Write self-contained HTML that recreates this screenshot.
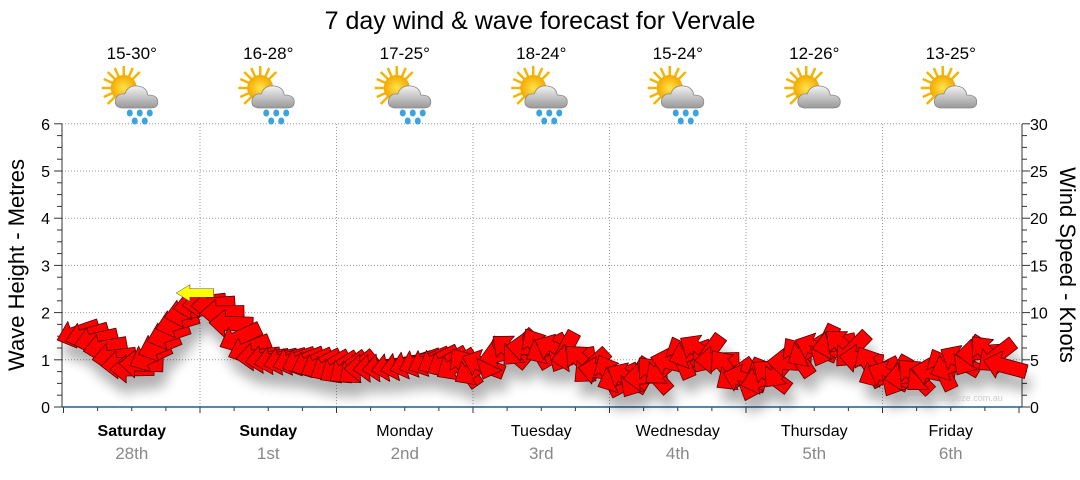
<!DOCTYPE html>
<html><head><meta charset="utf-8"><style>
body{margin:0;background:#fff;width:1080px;height:475px;overflow:hidden;font-family:"Liberation Sans",sans-serif}
</style></head><body>
<svg id="s" width="1080" height="475" xmlns="http://www.w3.org/2000/svg" font-family="Liberation Sans, sans-serif">
<defs>
<filter id="sh" x="-50%" y="-50%" width="200%" height="200%"><feGaussianBlur stdDeviation="6"/></filter>
<radialGradient id="sun" cx="0.5" cy="0.5" r="0.5"><stop offset="0" stop-color="#ffe44a"/><stop offset="1" stop-color="#f5a800"/></radialGradient>
<linearGradient id="cl" x1="0" y1="0" x2="0" y2="1"><stop offset="0" stop-color="#f2f2f2"/><stop offset="1" stop-color="#999"/></linearGradient>
<g id="ic">
<g stroke="#f5b400" stroke-width="2.5">
<line x1="-10" y1="-8" x2="-10" y2="-30"/><line x1="-10" y1="-8" x2="-32" y2="-8"/><line x1="-10" y1="-8" x2="-26" y2="-24"/><line x1="-10" y1="-8" x2="6" y2="-24"/><line x1="-10" y1="-8" x2="-26" y2="8"/><line x1="-10" y1="-8" x2="-30" y2="-17"/><line x1="-10" y1="-8" x2="-19" y2="-28"/><line x1="-10" y1="-8" x2="-1" y2="-28"/><line x1="-10" y1="-8" x2="-30" y2="1"/></g>
<circle cx="-10" cy="-8" r="13" fill="url(#sun)"/>
<path d="M-12 12 q-8 -1 -6 -9 q2 -6 9 -5 q3 -9 13 -8 q9 1 10 9 q10 0 10 7 q0 6 -7 6 z" fill="url(#cl)" stroke="#888" stroke-width="0.8"/>
</g>
<g id="rn" fill="#3aa4e0"><ellipse cx="-4" cy="17" rx="3" ry="3.5"/><ellipse cx="6" cy="17" rx="3" ry="3.5"/><ellipse cx="16" cy="17" rx="3" ry="3.5"/><ellipse cx="1" cy="25" rx="3" ry="3.5"/><ellipse cx="11" cy="25" rx="3" ry="3.5"/></g>
</defs>
<text x="540" y="29" font-size="25" text-anchor="middle" fill="#000">7 day wind &amp; wave forecast for Vervale</text>
<g id="grid"></g>
<g id="shadow" filter="url(#sh)" opacity="0.3"></g>
<g id="arr"></g>
<text x="24" y="265" font-size="22" text-anchor="middle" transform="rotate(-90 24 265)">Wave Height - Metres</text>
<text x="1060" y="265" font-size="22" text-anchor="middle" transform="rotate(90 1060 265)">Wind Speed - Knots</text>
<text x="955" y="401" font-size="9" fill="#ccc" text-anchor="middle">www.seabreeze.com.au</text>
</svg>
<script>
var s=document.getElementById('s'),g=document.getElementById('grid'),A=document.getElementById('arr'),S=document.getElementById('shadow');
var NS='http://www.w3.org/2000/svg';
function el(p,t,a,txt){var e=document.createElementNS(NS,t);for(var k in a)e.setAttribute(k,a[k]);if(txt!=null)e.textContent=txt;p.appendChild(e);return e;}
var x0=63.5,dw=136.5,y0=407,mh=47.2;
for(var i=1;i<=6;i++){el(g,'line',{x1:62,x2:1022,y1:y0-i*mh,y2:y0-i*mh,stroke:'#999','stroke-dasharray':'1,2'});}
for(var d=1;d<7;d++){var x=x0+d*dw;el(g,'line',{x1:x,x2:x,y1:124,y2:407,stroke:'#999','stroke-dasharray':'1,2'});}
el(g,'line',{x1:62,x2:62,y1:124,y2:407,stroke:'#333'});
el(g,'line',{x1:1022,x2:1022,y1:124,y2:407,stroke:'#333'});
for(var i=0;i<=24;i++){var y=y0-i*mh/4,l=i%4==0?8:5;el(g,'line',{x1:62-l,x2:62,y1:y,y2:y,stroke:'#333'});el(g,'line',{x1:1022,x2:1022+l,y1:y,y2:y,stroke:'#333'});}
for(var i=0;i<=6;i++){el(g,'text',{x:50,y:y0-i*mh+6,'font-size':16,'text-anchor':'end',fill:'#000'},i);}
for(var i=0;i<=6;i++){el(g,'text',{x:1030,y:y0-i*mh+6,'font-size':16,fill:'#000'},i*5);}
for(var i=0;i<=28;i++){var x=x0+i*dw/4;el(g,'line',{x1:x,x2:x,y1:407,y2:i%4==0?413:411,stroke:'#333'});}
el(g,'line',{x1:62,x2:1022,y1:407,y2:407,stroke:'#1f5f8b','stroke-width':1.5});
var days=['Saturday','Sunday','Monday','Tuesday','Wednesday','Thursday','Friday'],dt=['28th','1st','2nd','3rd','4th','5th','6th'];
var temps=['15-30°','16-28°','17-25°','18-24°','15-24°','12-26°','13-25°'];
for(var d=0;d<7;d++){var cx=x0+d*dw+dw/2;
el(g,'text',{x:cx,y:436,'font-size':16,'text-anchor':'middle','font-weight':d<2?'bold':'normal',fill:'#000'},days[d]);
el(g,'text',{x:cx,y:459,'font-size':17,'text-anchor':'middle',fill:'#888'},dt[d]);
el(g,'text',{x:cx,y:59,'font-size':17,'text-anchor':'middle',fill:'#000'},temps[d]);
el(g,'use',{href:'#ic',x:cx+2,y:96});
if(d<5)el(g,'use',{href:'#rn',x:cx+2,y:96});
}
var pts=[[62,330],[85,334],[100,342],[115,358],[130,370],[145,362],[160,345],[175,325],[190,308],[200,302],[215,305],[230,322],[245,345],[260,358],[280,360],[300,360],[320,364],[340,368],[370,368],[400,366],[420,362],[440,360],[460,366],[475,370],[490,360],[505,352],[520,348],[540,348],[560,350],[575,358],[590,366],[605,374],[620,378],[640,378],[655,374],[670,364],[685,355],[700,350],[715,358],[730,372],[745,380],[760,380],[775,374],[790,362],[805,352],[820,347],[835,344],[850,348],[862,360],[875,370],[890,377],[905,376],[920,376],[935,372],[950,366],[965,358],[980,352],[995,355],[1005,366],[1015,372]];
var poly='-22,0 -6,-14 -6,-7 22,-7 22,7 -6,7 -6,14';
function lerp(x){for(var i=0;i<pts.length-1;i++){if(x>=pts[i][0]&&x<=pts[i+1][0]){var t=(x-pts[i][0])/(pts[i+1][0]-pts[i][0]);return pts[i][1]+t*(pts[i+1][1]-pts[i][1]);}}return pts[pts.length-1][1];}
for(var x=78;x<=1005;x+=9){var y=lerp(x);var a=(x<250)?-25+((x*7)%30):(x<460?-40+((x*13)%40):(((x*37)%140)-70));
var tr='translate('+x.toFixed(1)+','+y.toFixed(1)+') rotate('+a+')';
el(S,'polygon',{points:poly,transform:'translate('+(x+4).toFixed(1)+','+(y+14).toFixed(1)+') rotate('+a+')',fill:'#000'});
el(A,'polygon',{points:poly,transform:tr,fill:'#ff0000',stroke:'#550000','stroke-width':0.8,'stroke-linejoin':'round'});}
el(A,'polygon',{points:poly,transform:'translate(195,293) scale(0.85,0.6)',fill:'#ffff00',stroke:'#555','stroke-width':0.8});
</script>
</body></html>
